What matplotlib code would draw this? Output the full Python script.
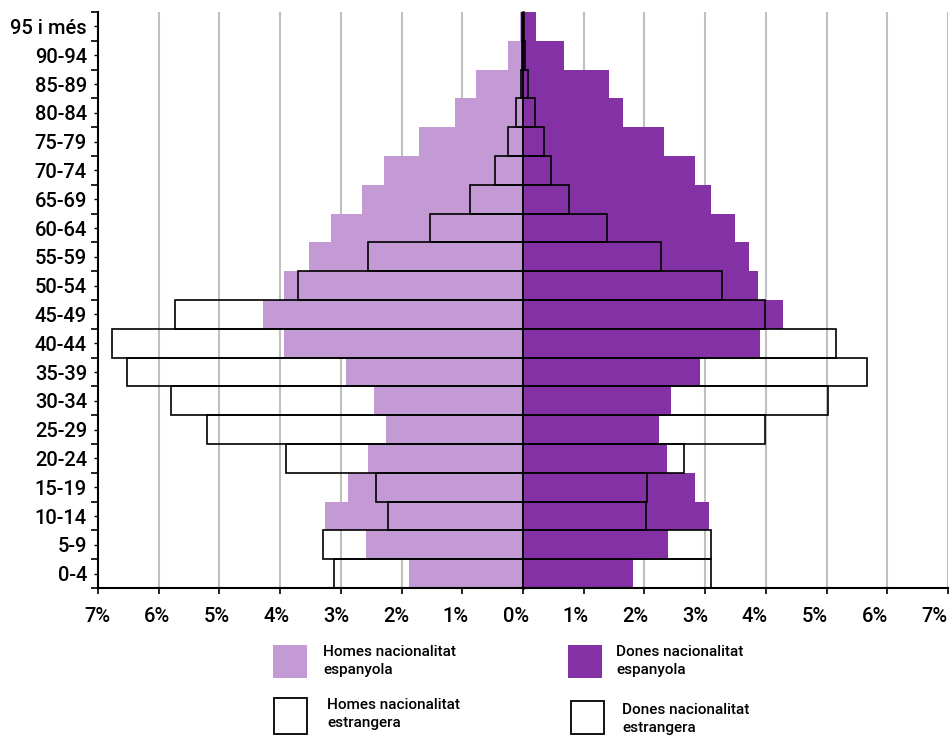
import matplotlib
matplotlib.use("Agg")
import matplotlib.pyplot as plt
from matplotlib.patches import Rectangle
from matplotlib.ticker import FuncFormatter, FixedLocator
from matplotlib.transforms import ScaledTranslation
import numpy as np

# age groups, bottom to top
ages = ["0-4", "5-9", "10-14", "15-19", "20-24", "25-29", "30-34", "35-39", "40-44",
        "45-49", "50-54", "55-59", "60-64", "65-69", "70-74", "75-79", "80-84",
        "85-89", "90-94", "95 i més"]

# percentages
homes_esp = [1.88, 2.58, 3.26, 2.89, 2.56, 2.25, 2.45, 2.92, 3.94, 4.29,
             3.94, 3.53, 3.17, 2.65, 2.29, 1.71, 1.12, 0.77, 0.24, 0.05]
homes_estr = [3.11, 3.30, 2.23, 2.42, 3.90, 5.21, 5.79, 6.53, 6.77, 5.73,
              3.70, 2.56, 1.53, 0.87, 0.46, 0.24, 0.11, 0.03, 0.02, 0.01]
dones_esp = [1.81, 2.39, 3.07, 2.83, 2.37, 2.24, 2.44, 2.92, 3.90, 4.28,
             3.87, 3.73, 3.49, 3.09, 2.83, 2.32, 1.64, 1.42, 0.67, 0.22]
dones_estr = [3.10, 3.09, 2.02, 2.04, 2.65, 3.98, 5.03, 5.67, 5.16, 3.99,
              3.27, 2.28, 1.39, 0.76, 0.46, 0.35, 0.20, 0.09, 0.04, 0.02]

light = "#C39AD3"
dark = "#8331A5"
plt.rcParams["font.family"] = ["Roboto", "DejaVu Sans"]
plt.rcParams["font.weight"] = "medium"

W, H = 952, 740
fig = plt.figure(figsize=(W / 100, H / 100), dpi=100)
ax = fig.add_axes([98 / W, 1 - 588 / H, 850 / W, 576 / H])

y = np.arange(len(ages))
ax.barh(y, -np.array(homes_esp), height=1.0, color=light, zorder=2)
ax.barh(y, dones_esp, height=1.0, color=dark, zorder=2)
ax.barh(y, -np.array(homes_estr), height=1.0, fill=False, edgecolor="black", linewidth=1.2, zorder=3)
ax.barh(y, dones_estr, height=1.0, fill=False, edgecolor="black", linewidth=1.2, zorder=3)

ax.set_xlim(-7, 7)
ax.set_ylim(-0.5, len(ages) - 0.5)

# grid lines every 1%
for gx in range(-6, 8):
    if gx != 0:
        ax.axvline(gx, color="#c0c0c0", linewidth=1.5, zorder=1)

xt = list(range(-7, 8))
ax.set_xticks(xt)
ax.xaxis.set_major_formatter(FuncFormatter(lambda v, p: f"{abs(int(round(v)))}%"))
ax.tick_params(axis="x", length=4, width=1.2, pad=10, labelsize=14.5)
# the labels in the original sit a little tighter than the ticks
for i, lbl in enumerate(ax.get_xticklabels()):
    dx = -(1 + 0.9 * i) / 100
    lbl.set_transform(lbl.get_transform() + ScaledTranslation(dx, 0, fig.dpi_scale_trans))

ax.set_yticks(y)
ax.set_yticklabels(ages)
ax.yaxis.set_minor_locator(FixedLocator(np.arange(-0.5, len(ages), 1.0)))
ax.tick_params(axis="y", which="major", length=3, width=1.0, labelsize=14.5, pad=5)
ax.tick_params(axis="y", which="minor", length=5, width=1.2)

for s in ["top", "right"]:
    ax.spines[s].set_visible(False)
ax.spines["left"].set_linewidth(1.5)
ax.spines["bottom"].set_linewidth(1.5)
ax.spines["left"].set_zorder(4)

# axis at 0% with its own small ticks
sec = ax.secondary_yaxis(0.5)
sec.set_yticks(y)
sec.set_yticklabels([])
sec.tick_params(axis="y", length=3, width=1.0, direction="out")
sec.spines["right"].set_linewidth(1.8)
sec.spines["left"].set_linewidth(1.8)

# legend drawn by hand under the chart
def box(x0, y0, x1, y1, **kw):
    fig.add_artist(Rectangle((x0 / W, 1 - y1 / H), (x1 - x0) / W, (y1 - y0) / H,
                             transform=fig.transFigure, **kw))

box(273, 645, 307, 678, facecolor=light, edgecolor="none")
box(568, 645, 602, 678, facecolor=dark, edgecolor="none")
box(274, 698, 307, 734, facecolor="white", edgecolor="black", linewidth=1.3)
box(571, 701, 604, 734, facecolor="white", edgecolor="black", linewidth=1.3)

lab = dict(fontsize=11, va="top", ha="left", linespacing=1.35)
fig.text(323 / W, 1 - 645 / H, "Homes nacionalitat\nespanyola", **lab)
fig.text(616 / W, 1 - 645 / H, "Dones nacionalitat\nespanyola", **lab)
fig.text(327 / W, 1 - 698 / H, "Homes nacionalitat\nestrangera", **lab)
fig.text(622 / W, 1 - 703 / H, "Dones nacionalitat\nestrangera", **lab)

fig.savefig("out.png", dpi=100)
